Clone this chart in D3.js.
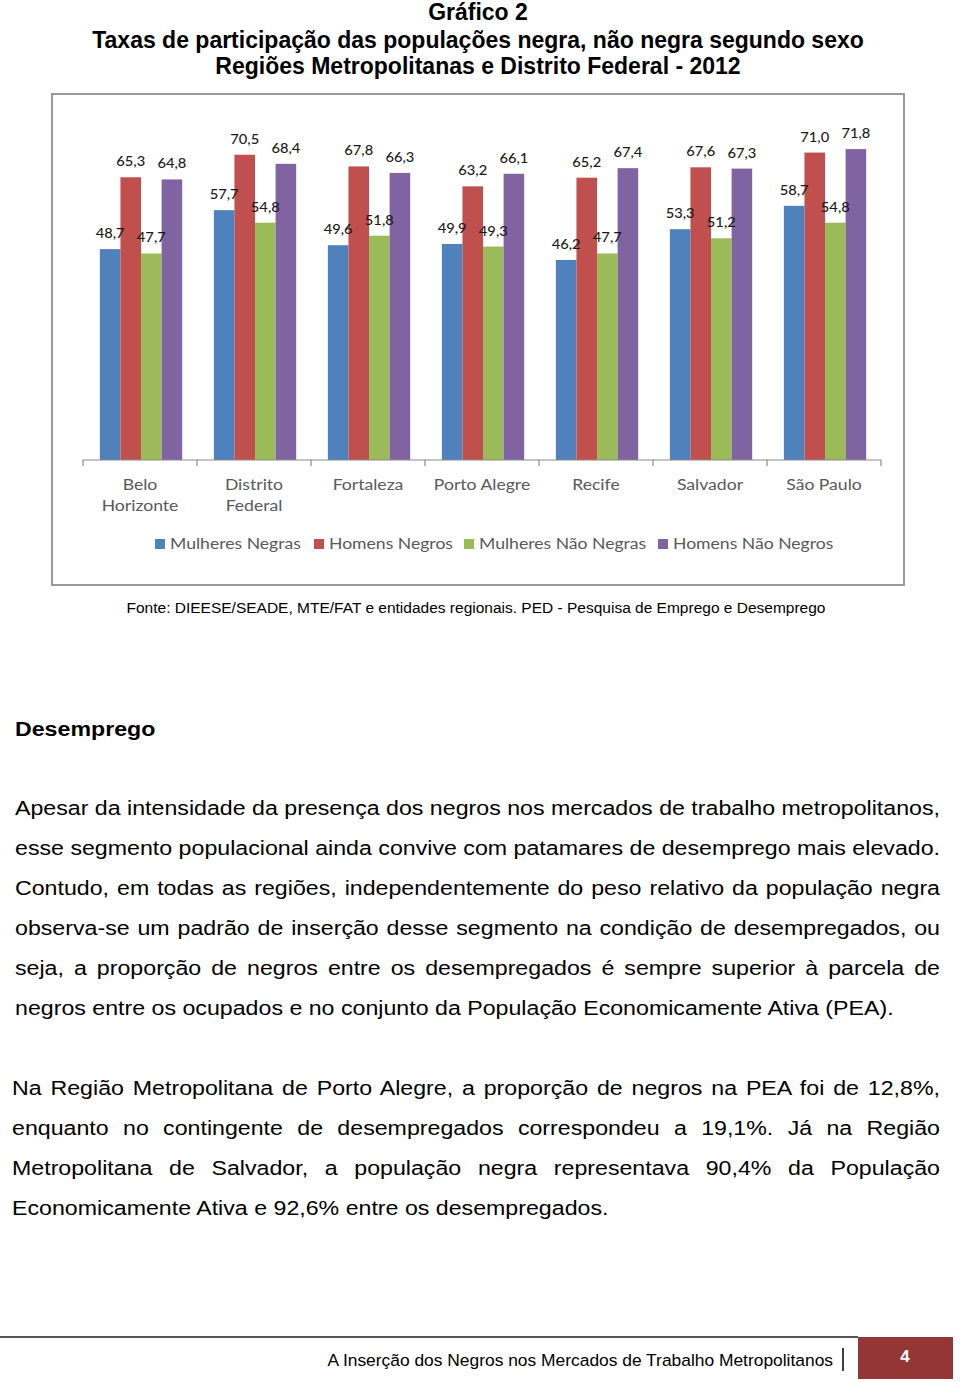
<!DOCTYPE html>
<html><head><meta charset="utf-8">
<script src="https://cdn.jsdelivr.net/npm/d3@7"></script>
<style>html,body{margin:0;padding:0;background:#fff;}svg{display:block;}</style>
</head><body>
<script>
// ---- data ----
const categories = [["Belo","Horizonte"],["Distrito","Federal"],["Fortaleza"],["Porto Alegre"],["Recife"],["Salvador"],["São Paulo"]];
const seriesNames = ["Mulheres Negras","Homens Negros","Mulheres Não Negras","Homens Não Negros"];
const seriesColors = ["#4f81bd","#c0504d","#9bbb59","#8064a2"];
const mulheresNegras   = [48.7,57.7,49.6,49.9,46.2,53.3,58.7];
const homensNegros     = [65.3,70.5,67.8,63.2,65.2,67.6,71.0];
const mulheresNaoNegras= [47.7,54.8,51.8,49.3,47.7,51.2,54.8];
const homensNaoNegros  = [64.8,68.4,66.3,66.1,67.4,67.3,71.8];
const seriesValues = [mulheresNegras,homensNegros,mulheresNaoNegras,homensNaoNegros];
const titleLines = ["Gráfico 2","Taxas de participação das populações negra, não negra segundo sexo","Regiões Metropolitanas e Distrito Federal - 2012"];
const sourceText = "Fonte: DIEESE/SEADE, MTE/FAT e entidades regionais. PED - Pesquisa de Emprego e Desemprego";
const heading = "Desemprego";
const para1 = ["Apesar da intensidade da presença dos negros nos mercados de trabalho metropolitanos,",
"esse segmento populacional ainda convive com patamares de desemprego mais elevado.",
"Contudo, em todas as regiões, independentemente do peso relativo da população negra",
"observa-se um padrão de inserção desse segmento na condição de desempregados, ou",
"seja, a proporção de negros entre os desempregados é sempre superior à parcela de",
"negros entre os ocupados e no conjunto da População Economicamente Ativa (PEA)."];
const para2 = ["Na Região Metropolitana de Porto Alegre, a proporção de negros na PEA foi de 12,8%,",
"enquanto no contingente de desempregados correspondeu a 19,1%. Já na Região",
"Metropolitana de Salvador, a população negra representava 90,4% da População",
"Economicamente Ativa e 92,6% entre os desempregados."];
const footerText = "A Inserção dos Negros nos Mercados de Trabalho Metropolitanos";
const pageNumber = "4";

const W=960,H=1382;
const svg=d3.select("body").append("svg").attr("width",W).attr("height",H);
const narrow="'Liberation Sans Narrow','Arial Narrow','Liberation Sans',sans-serif";
const sans="'Liberation Sans',Arial,sans-serif";
const cal="Lato,'Open Sans',sans-serif";

function stext(x,yy,sx){
  return svg.append("text").attr("transform",`translate(${x},${yy}) scale(${sx},1)`);
}

// titles
const tb=[20,48,74];
titleLines.forEach((t,i)=>svg.append("text").attr("x",478).attr("y",tb[i]).attr("text-anchor","middle")
  .attr("font-family",narrow).attr("font-weight","bold").attr("font-size",23).attr("fill","#000").text(t));

// chart frame
svg.append("rect").attr("x",52).attr("y",94).attr("width",852).attr("height",491)
  .attr("fill","#fff").attr("stroke","#9a9a9a").attr("stroke-width",2);

const y=d3.scaleLinear().domain([0,80]).range([460,460-80*4.33]);
const x0=d3.scaleBand().domain(d3.range(categories.length)).range([83,881]);
const x1=d3.scaleBand().domain(d3.range(seriesNames.length)).range([x0.bandwidth()*0.148,x0.bandwidth()*0.87]);

const g=svg.append("g");
categories.forEach((c,ci)=>{
  seriesValues.forEach((vals,si)=>{
    const v=vals[ci];
    g.append("rect").attr("x",x0(ci)+x1(si)).attr("y",y(v)).attr("width",x1.bandwidth()).attr("height",y(0)-y(v)).attr("fill",seriesColors[si]);
  });
});
// axis
const ax=svg.append("g").attr("transform","translate(0,460)");
ax.append("line").attr("x1",83).attr("x2",881).attr("stroke","#8a8a8a").attr("stroke-width",1.2);
d3.range(categories.length+1).forEach(i=>{
  const xx=i<categories.length?x0(i):x0.range()[1];
  ax.append("line").attr("x1",xx).attr("x2",xx).attr("y1",0).attr("y2",6).attr("stroke","#8a8a8a").attr("stroke-width",1.2);
});
// labels
categories.forEach((c,ci)=>{
  seriesValues.forEach((vals,si)=>{
    const v=vals[ci];
    stext(x0(ci)+x1(si)+x1.bandwidth()/2,y(v)-11,1.05).attr("text-anchor","middle")
      .attr("font-family",cal).attr("font-size",14).attr("font-weight",500).attr("fill","#1a1a1a").text(d3.format(".1f")(v).replace(".",","));
  });
  c.forEach((line,li)=>stext(x0(ci)+x0.bandwidth()/2,490+li*21,1.1).attr("text-anchor","middle")
    .attr("font-family",cal).attr("font-size",16).attr("fill","#595959").text(line));
});
// legend
const legX=[155,314,464,658];
seriesNames.forEach((n,i)=>{
  svg.append("rect").attr("x",legX[i]).attr("y",539).attr("width",10).attr("height",10).attr("fill",seriesColors[i]);
  stext(legX[i]+15,549,1.1).attr("font-family",cal).attr("font-size",16).attr("fill","#595959").text(n);
});

// source
svg.append("text").attr("x",476).attr("y",613).attr("text-anchor","middle").attr("font-family",narrow).attr("font-size",15.5).attr("fill","#000").text(sourceText);

const SX=1.104;
// heading
stext(15,736,SX).attr("font-family",sans).attr("font-weight","bold").attr("font-size",21).attr("fill","#000").text(heading);

function para(lines,x0p,x1p,base,step){
  lines.forEach((l,i)=>{
    const t=stext(x0p,base+i*step,SX).attr("font-family",sans).attr("font-size",21).attr("fill","#000").text(l);
    if(i<lines.length-1){
      const w=t.node().getComputedTextLength();
      const sp=(l.match(/ /g)||[]).length;
      t.attr("word-spacing",((x1p-x0p)/SX-w)/sp);
    }
  });
}
para(para1,15,940,815,40);
para(para2,12,940,1095,40);

// footer
svg.append("line").attr("x1",0).attr("x2",858).attr("y1",1337).attr("y2",1337).attr("stroke","#555").attr("stroke-width",2);
svg.append("text").attr("x",833).attr("y",1366).attr("text-anchor","end").attr("font-family",narrow).attr("font-size",17.4).attr("fill","#000").text(footerText);
svg.append("line").attr("x1",843).attr("x2",843).attr("y1",1348).attr("y2",1371).attr("stroke","#000").attr("stroke-width",1.5);
svg.append("rect").attr("x",858).attr("y",1337).attr("width",95).attr("height",42).attr("fill","#943634");
svg.append("text").attr("x",905).attr("y",1362).attr("text-anchor","middle").attr("font-family",narrow).attr("font-weight","bold").attr("font-size",17).attr("fill","#fff").text(pageNumber);
</script>
</body></html>
